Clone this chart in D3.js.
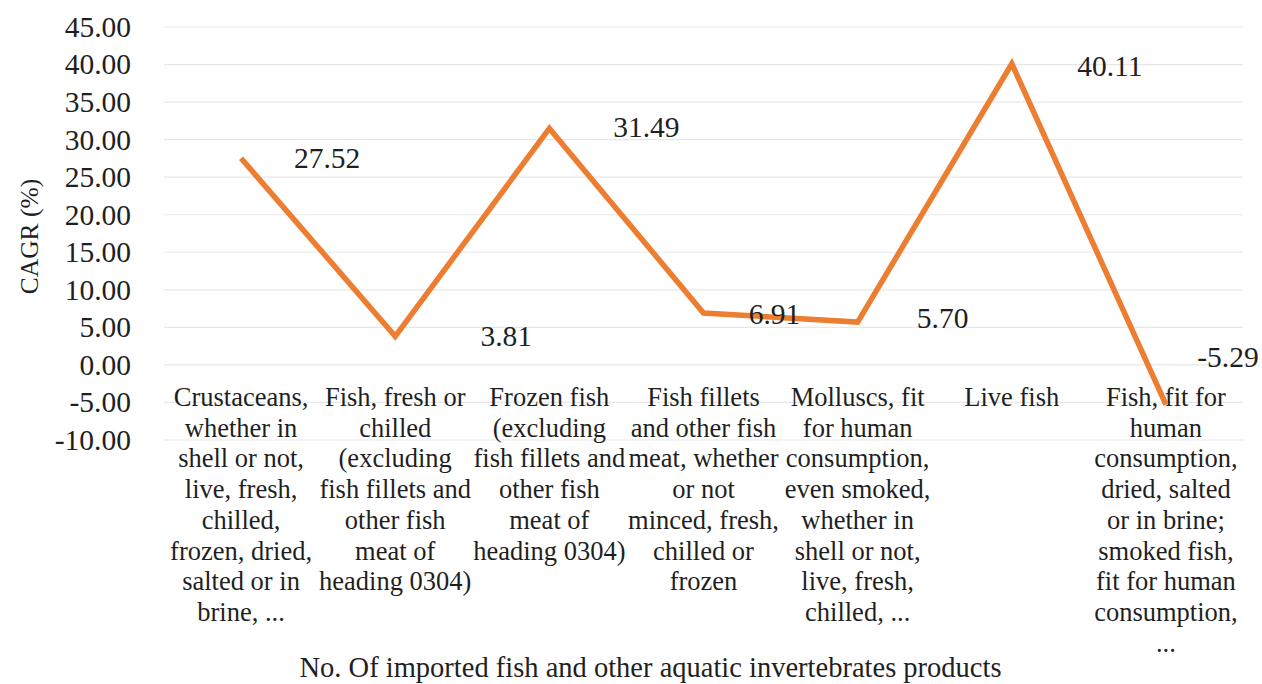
<!DOCTYPE html>
<html>
<head>
<meta charset="utf-8">
<script src="https://cdn.jsdelivr.net/npm/d3@7/dist/d3.min.js"></script>
<style>
  html, body { margin: 0; padding: 0; background: #ffffff; }
  svg { display: block; }
  text { font-family: "Liberation Serif", "Times New Roman", "DejaVu Serif", serif; fill: #1f1f1f; }
</style>
</head>
<body>
<script>
// Product groups (wrapped as on the axis)
const categories = [
  ["Crustaceans,", "whether in", "shell or not,", "live, fresh,", "chilled,", "frozen, dried,", "salted or in", "brine, ..."],
  ["Fish, fresh or", "chilled", "(excluding", "fish fillets and", "other fish", "meat of", "heading 0304)"],
  ["Frozen fish", "(excluding", "fish fillets and", "other fish", "meat of", "heading 0304)"],
  ["Fish fillets", "and other fish", "meat, whether", "or not", "minced, fresh,", "chilled or", "frozen"],
  ["Molluscs, fit", "for human", "consumption,", "even smoked,", "whether in", "shell or not,", "live, fresh,", "chilled, ..."],
  ["Live fish"],
  ["Fish, fit for", "human", "consumption,", "dried, salted", "or in brine;", "smoked fish,", "fit for human", "consumption,", "..."]
];

// Compound annual growth rate (%)
const cagr = [27.52, 3.81, 31.49, 6.91, 5.70, 40.11, -5.29];

// Y axis ticks
const yTicks = [45, 40, 35, 30, 25, 20, 15, 10, 5, 0, -5, -10];

const yTitle = "CAGR (%)";
const xTitle = "No. Of imported fish and other aquatic invertebrates products";

// Layout
const W = 1262, H = 684;
const plot = { left: 164, right: 1243, top: 27, bottom: 440 };
// value label placement relative to each point
const labelShift = [[86, 0], [111, 0], [97, -1], [71, 1], [85, -4], [98, 2], [62, -48]];

// two decimals, plain hyphen for negatives
const fmt = v => v.toFixed(2);

const svg = d3.select("body").append("svg")
  .attr("width", W).attr("height", H);

const x = d3.scaleBand()
  .domain(d3.range(categories.length))
  .range([plot.left, plot.right])
  .paddingInner(0).paddingOuter(0);

const y = d3.scaleLinear()
  .domain([-10, 45])
  .range([plot.bottom, plot.top]);

const cx = i => x(i) + x.bandwidth() / 2;

// Horizontal gridlines
svg.append("g")
  .selectAll("line")
  .data(yTicks)
  .join("line")
  .attr("x1", plot.left).attr("x2", plot.right)
  .attr("y1", d => y(d)).attr("y2", d => y(d))
  .attr("stroke", "#e8e8e8")
  .attr("stroke-width", 1.2);

// Y axis labels
const yAxis = d3.axisLeft(y)
  .tickValues(yTicks)
  .tickFormat(fmt)
  .tickSize(0)
  .tickPadding(0);

const yAxisG = svg.append("g")
  .attr("transform", `translate(131,0)`)
  .call(yAxis)
  .attr("font-family", null)
  .attr("font-size", null);
yAxisG.select(".domain").remove();
yAxisG.selectAll("text")
  .attr("font-size", 29.5)
  .attr("fill", "#1f1f1f");

// Category labels under the plot
const catG = svg.append("g");
categories.forEach((lines, i) => {
  const t = catG.append("text")
    .attr("text-anchor", "middle")
    .attr("font-size", 26.5)
    .attr("x", cx(i))
    .attr("y", 406);
  lines.forEach((ln, k) => {
    t.append("tspan")
      .attr("x", cx(i))
      .attr("dy", k === 0 ? 0 : 30.7)
      .text(ln);
  });
});

// Line series
const line = d3.line()
  .x((d, i) => cx(i))
  .y(d => y(d));

svg.append("path")
  .datum(cagr)
  .attr("d", line)
  .attr("fill", "none")
  .attr("stroke", "#ED7D31")
  .attr("stroke-width", 5.5)
  .attr("stroke-linejoin", "miter");

// Value labels
svg.append("g")
  .selectAll("text")
  .data(cagr)
  .join("text")
  .attr("text-anchor", "middle")
  .attr("dominant-baseline", "central")
  .attr("font-size", 29.5)
  .attr("x", (d, i) => cx(i) + labelShift[i][0])
  .attr("y", (d, i) => y(d) + labelShift[i][1])
  .text(d => fmt(d));

// Axis titles
svg.append("text")
  .attr("text-anchor", "middle")
  .attr("font-size", 25.5)
  .attr("transform", `translate(38,${(plot.top + plot.bottom) / 2 + 3}) rotate(-90)`)
  .text(yTitle);

svg.append("text")
  .attr("text-anchor", "middle")
  .attr("font-size", 28.5)
  .attr("x", (plot.left + plot.right) / 2 - 53)
  .attr("y", 677)
  .text(xTitle);
</script>
</body>
</html>
